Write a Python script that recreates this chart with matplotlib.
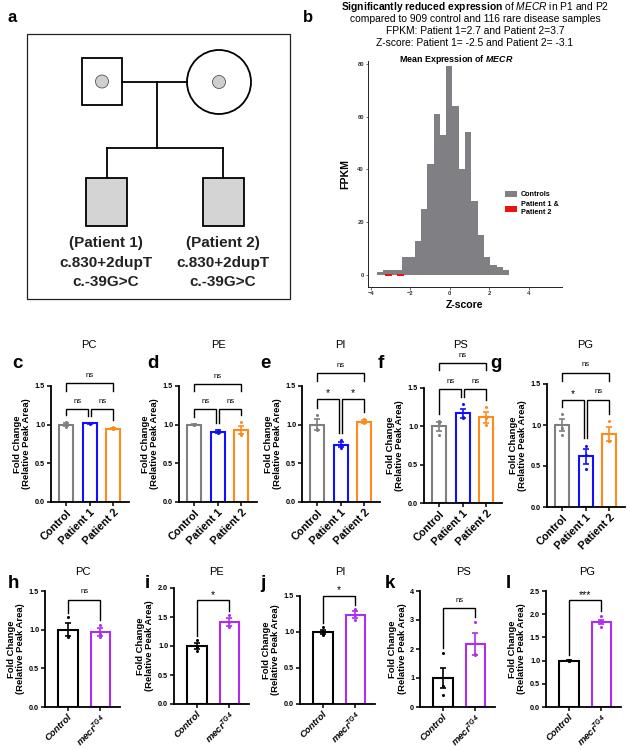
import matplotlib
matplotlib.use('Agg')
import matplotlib.pyplot as plt
import numpy as np
from matplotlib.patches import Rectangle, Circle, Patch

plt.rcParams['font.family'] = ['Liberation Sans', 'DejaVu Sans']
plt.rcParams['mathtext.fontset'] = 'custom'
plt.rcParams['mathtext.rm'] = 'Liberation Sans'
plt.rcParams['mathtext.it'] = 'Liberation Sans:italic'
plt.rcParams['mathtext.bf'] = 'Liberation Sans:bold'
try:
    plt.rcParams['mathtext.bfit'] = 'Liberation Sans:italic:bold'
    BFIT = True
except KeyError:
    BFIT = False

# ---------------- data ----------------
# panel b: histogram of MECR z-scores
z_bin_edges = [-3.70, -3.38, -3.06, -2.74, -2.42, -2.10, -1.78, -1.46, -1.14, -0.82,
               -0.50, -0.18, 0.14, 0.46, 0.78, 1.10, 1.42, 1.74, 2.06, 2.38, 2.70, 3.02]
control_counts = [1, 2, 2, 2, 7, 7, 13, 25, 42, 61, 53, 79, 64, 40, 54, 28, 15, 7, 4, 3, 2]
patient_z = [-2.5, -3.1]

# panels c-g: patient fibroblasts
groups_top = ['Control', 'Patient 1', 'Patient 2']
titles_top = ['PC', 'PE', 'PI', 'PS', 'PG']

c_means = [1.00, 1.02, 0.95]
c_sems = [0.02, 0.005, 0.01]
c_points = [[1.03, 0.97, 1.00], [1.02, 1.01, 1.025], [0.97, 0.94, 0.95]]
c_sig = [(0, 1, 'ns', 1.20), (1, 2, 'ns', 1.20), (0, 2, 'ns', 1.54)]

d_means = [1.00, 0.91, 0.93]
d_sems = [0.01, 0.015, 0.055]
d_points = [[1.01, 0.99, 1.00], [0.93, 0.89, 0.91], [1.04, 0.88, 0.87]]
d_sig = [(0, 1, 'ns', 1.20), (1, 2, 'ns', 1.20), (0, 2, 'ns', 1.53)]

e_means = [1.00, 0.74, 1.04]
e_sems = [0.07, 0.03, 0.015]
e_points = [[1.13, 0.94, 0.93], [0.80, 0.72, 0.70], [1.07, 1.03, 1.02]]
e_sig = [(0, 1, '*', 1.33), (1, 2, '*', 1.33), (0, 2, 'ns', 1.67)]

f_means = [1.00, 1.17, 1.12]
f_sems = [0.06, 0.06, 0.07]
f_points = [[1.07, 1.05, 0.89], [1.29, 1.12, 1.11], [1.25, 1.11, 1.02]]
f_sig = [(0, 1, 'ns', 1.49), (1, 2, 'ns', 1.49), (0, 2, 'ns', 1.83)]

g_means = [1.00, 0.62, 0.89]
g_sems = [0.07, 0.09, 0.08]
g_points = [[1.13, 0.96, 0.88], [0.75, 0.64, 0.46], [1.05, 0.81, 0.80]]
g_sig = [(0, 1, '*', 1.31), (1, 2, 'ns', 1.31), (0, 2, 'ns', 1.64)]

# panels h-l: fly model
groups_bot = ['Control', 'mecr']
titles_bot = ['PC', 'PE', 'PI', 'PS', 'PG']

h_means = [1.00, 0.97]
h_sems = [0.085, 0.05]
h_points = [[1.16, 0.92, 0.91], [1.06, 0.95, 0.90]]
h_sig = [(0, 1, 'ns', 1.39)]

i_means = [1.00, 1.42]
i_sems = [0.05, 0.07]
i_points = [[1.10, 0.99, 0.91], [1.53, 1.41, 1.32]]
i_sig = [(0, 1, '*', 1.79)]

j_means = [1.00, 1.24]
j_sems = [0.03, 0.05]
j_points = [[1.07, 0.97, 0.96], [1.32, 1.24, 1.16]]
j_sig = [(0, 1, '*', 1.50)]

k_means = [1.00, 2.18]
k_sems = [0.36, 0.38]
k_points = [[1.86, 0.74, 0.40], [2.93, 1.82, 1.79]]
k_sig = [(0, 1, 'ns', 3.42)]

l_means = [1.00, 1.83]
l_sems = [0.01, 0.05]
l_points = [[1.01, 0.99, 0.99], [1.96, 1.83, 1.72]]
l_sig = [(0, 1, '***', 2.30)]

# ---------------- figure ----------------
W, H = 630, 750
fig = plt.figure(figsize=(6.3, 7.5), dpi=100)


def px_axes(l, t, r, b):
    return fig.add_axes([l / W, 1 - b / H, (r - l) / W, (b - t) / H])


def ftext(x, y, s, **kw):
    kw.setdefault('ha', 'center')
    kw.setdefault('va', 'center')
    fig.text(x / W, 1 - y / H, s, **kw)


# ---------- panel a: pedigree ----------
pa = fig.add_axes([0, 0, 1, 1])
pa.set_xlim(0, W)
pa.set_ylim(H, 0)
pa.axis('off')
pa.set_zorder(-5)
lw = 1.3
pa.add_patch(Rectangle((27, 34), 263, 265, fill=False, lw=0.9, ec='#222222'))
pa.add_patch(Rectangle((82, 58), 40, 47, fc='white', ec='black', lw=lw))
pa.add_patch(Circle((102, 81.5), 6.5, fc='#cfcfcf', ec='#555555', lw=0.6))
pa.add_patch(Circle((219, 82), 32, fc='white', ec='black', lw=lw))
pa.add_patch(Circle((219, 82), 6.5, fc='#cfcfcf', ec='#555555', lw=0.6))
pa.plot([122, 187], [82, 82], color='black', lw=lw)
pa.plot([157, 157], [82, 148], color='black', lw=lw)
pa.plot([107, 223], [148, 148], color='black', lw=lw)
pa.plot([107, 107], [148, 178], color='black', lw=lw)
pa.plot([223, 223], [148, 178], color='black', lw=lw)
pa.add_patch(Rectangle((86, 178), 41, 48, fc='#d4d4d4', ec='black', lw=lw))
pa.add_patch(Rectangle((203, 178), 41, 48, fc='#d4d4d4', ec='black', lw=lw))
for cx, pname in [(106, '(Patient 1)'), (223, '(Patient 2)')]:
    ftext(cx, 243, pname, fontsize=11, fontweight='bold', color='#222222')
    ftext(cx, 263, 'c.830+2dupT', fontsize=11, fontweight='bold', color='#222222')
    ftext(cx, 282, 'c.-39G>C', fontsize=11, fontweight='bold', color='#222222')

ftext(12, 17, 'a', fontsize=12, fontweight='bold')
ftext(308, 17, 'b', fontsize=12, fontweight='bold')

# ---------- panel b: histogram ----------
ftext(475, 7, r'$\mathbf{Significantly\ reduced\ expression}$ of $\mathit{MECR}$ in P1 and P2',
      fontsize=7.4)
ftext(475, 19, 'compared to 909 control and 116 rare disease samples', fontsize=7.4)
ftext(475, 31, 'FPKM: Patient 1=2.7 and Patient 2=3.7', fontsize=7.4)
ftext(475, 43, 'Z-score: Patient 1= -2.5 and Patient 2= -3.1', fontsize=7.4)

hb = px_axes(368, 61, 562, 287)
edges = np.array(z_bin_edges)
hb.bar(edges[:-1], control_counts, width=np.diff(edges), align='edge',
       color='#808084', edgecolor='none', label='Controls')
hb.bar(patient_z, 1.0, width=0.36, bottom=-0.4, color='#ee1111', edgecolor='none',
       label='Patient 1 &\nPatient 2')
hb.set_xlim(-4.15, 5.7)
hb.set_ylim(-4.5, 81)
hb.set_xticks([-4, -2, 0, 2, 4])
hb.set_yticks([0, 20, 40, 60, 80])
hb.tick_params(labelsize=4.2, length=1.8, width=0.5, pad=1, colors='#333333')
for t in hb.get_xticklabels() + hb.get_yticklabels():
    t.set_fontweight('bold')
for s in ['top', 'right']:
    hb.spines[s].set_visible(False)
for s in ['left', 'bottom']:
    hb.spines[s].set_linewidth(0.7)
    hb.spines[s].set_color('#222222')
hb.set_ylabel('FPKM', fontsize=7.6, fontweight='bold', labelpad=5)
hb.set_xlabel('Z-score', fontsize=7.6, fontweight='bold', labelpad=3)
if BFIT:
    mt = r'Mean Expression of $\mathbfit{MECR}$'
else:
    mt = r'Mean Expression of $\mathit{MECR}$'
ftext(456, 59, mt, fontsize=6.4, fontweight='bold')
hb.legend(loc='upper left', bbox_to_anchor=(505 / W, 1 - 191 / H),
          bbox_transform=fig.transFigure, frameon=False,
          prop={'size': 5.2, 'weight': 'bold'}, handlelength=1.6, handleheight=0.9,
          labelspacing=0.4, handletextpad=0.6, borderaxespad=0, borderpad=0)


# ---------- bar panels ----------
def bar_panel(ax, means, sems, points, colors, ymax, ystep, sig, labels, italic, fmt,
              gap, xfs):
    n = len(means)
    x = np.arange(n)
    ax.bar(x, means, width=0.6, facecolor='white', edgecolor=colors, linewidth=1.5,
           zorder=2)
    for i in range(n):
        ax.plot([i - 0.17, i + 0.17], [means[i], means[i]], color=colors[i], lw=1.3,
                zorder=4, solid_capstyle='butt')
        ax.errorbar(i, means[i], yerr=sems[i], color=colors[i], capsize=2.2,
                    elinewidth=1.2, capthick=1.2, zorder=4, fmt='none')
        ax.plot([i] * len(points[i]), points[i], 'o', color=colors[i], ms=2.2,
                mec='none', zorder=5)
    ax.set_xlim(-0.65, n - 1 + 0.65)
    ax.set_ylim(0, ymax)
    ticks = np.arange(0, ymax + 1e-9, ystep)
    ax.set_yticks(ticks)
    ax.set_yticklabels([fmt.format(t) for t in ticks])
    ax.set_xticks(x)
    ax.set_xticklabels(labels, rotation=45, ha='right', rotation_mode='anchor')
    for t in ax.get_xticklabels():
        t.set_fontweight('bold')
        t.set_fontsize(xfs)
        if italic:
            t.set_fontstyle('italic')
    for t in ax.get_yticklabels():
        t.set_fontweight('bold')
        t.set_fontsize(5.2)
    ax.tick_params(axis='y', length=3, width=1.1, pad=1.2)
    ax.tick_params(axis='x', length=3, width=1.1, pad=1.0)
    for s in ['top', 'right']:
        ax.spines[s].set_visible(False)
    for s in ['left', 'bottom']:
        ax.spines[s].set_linewidth(1.3)
    ax.set_ylabel('Fold Change\n(Relative Peak Area)', fontsize=6.8, fontweight='bold',
                  labelpad=2.5, linespacing=1.05)
    tops = [max(max(p), m + s) for p, m, s in zip(points, means, sems)]
    for (a, b, lab, y) in sig:
        outer = (b - a) > 1
        xa = a
        xb = b
        if len(means) == 3 and not outer:
            if a == 1:
                xa = a + 0.06
            if b == 1:
                xb = b - 0.06
        if outer:
            ya = yb = y - 0.1 * ymax / 1.5
        else:
            ya = min(y - 0.05 * ymax, tops[a] + gap * ymax)
            yb = min(y - 0.05 * ymax, tops[b] + gap * ymax)
        ax.plot([xa, xa, xb, xb], [ya, y, y, yb], color='black', lw=1.0,
                clip_on=False, zorder=6, solid_joinstyle='miter')
        if lab == 'ns':
            ax.text((xa + xb) / 2, y + 0.035 * ymax, lab, ha='center', va='bottom',
                    fontsize=5.6, clip_on=False)
        else:
            ax.text((xa + xb) / 2, y + 0.005 * ymax, lab, ha='center', va='bottom',
                    fontsize=7.5, clip_on=False)


top_colors = ['#7f7f7f', '#1010ff', '#ff8a1c']
top_specs = [
    (51, 386, 502, c_means, c_sems, c_points, c_sig),
    (179, 386, 502, d_means, d_sems, d_points, d_sig),
    (302, 386, 502, e_means, e_sems, e_points, e_sig),
    (424, 388, 503, f_means, f_sems, f_points, f_sig),
    (547, 384, 507, g_means, g_sems, g_points, g_sig),
]
for (l, t, b, m, s, p, sg) in top_specs:
    ax = px_axes(l, t, l + 77.5, b)
    bar_panel(ax, m, s, p, top_colors, 1.5, 0.5, sg, groups_top, False, '{:.1f}', 0.06,
              7.8)

for (x, title) in zip([89, 218, 340, 460, 585], titles_top):
    ftext(x, 345, title, fontsize=8)
for (x, lab) in zip([17, 153, 265, 381, 496], ['c', 'd', 'e', 'f', 'g']):
    ftext(x, 363, lab, fontsize=13.5, fontweight='bold')

purple = '#b02cf0'
bot_colors = ['black', purple]
mecr_label = r'$\mathbfit{mecr}^{\mathbfit{TG4}}$' if BFIT else r'$\mathit{mecr}^{\mathit{TG4}}$'
bot_labels = ['Control', mecr_label]
bot_specs = [
    (45, 591, 707, 1.5, 0.5, '{:.1f}', h_means, h_sems, h_points, h_sig),
    (174, 588, 704, 2.0, 0.5, '{:.1f}', i_means, i_sems, i_points, i_sig),
    (300, 596, 704, 1.5, 0.5, '{:.1f}', j_means, j_sems, j_points, j_sig),
    (420, 591, 707, 4.0, 1.0, '{:.0f}', k_means, k_sems, k_points, k_sig),
    (546, 591, 707, 2.5, 0.5, '{:.1f}', l_means, l_sems, l_points, l_sig),
]
for (l, t, b, ymax, ystep, fmt, m, s, p, sg) in bot_specs:
    ax = px_axes(l, t, l + 75, b)
    bar_panel(ax, m, s, p, bot_colors, ymax, ystep, sg, bot_labels, True, fmt, 0.04,
              6.8)
    ax.set_xlim(-0.7, 1.6)

for (x, title) in zip([83, 217, 340, 463, 587], titles_bot):
    ftext(x, 572, title, fontsize=8)
for (x, lab) in zip([13, 147, 263, 390, 508], ['h', 'i', 'j', 'k', 'l']):
    ftext(x, 583, lab, fontsize=13.5, fontweight='bold')

fig.savefig('out.png', dpi=100)
